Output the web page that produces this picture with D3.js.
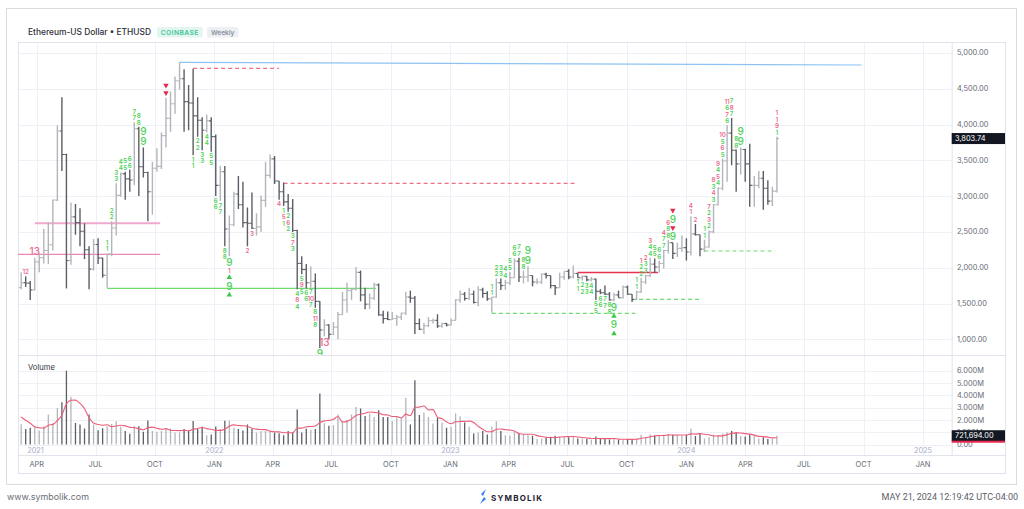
<!DOCTYPE html>
<html><head><meta charset="utf-8">
<script src="https://cdnjs.cloudflare.com/ajax/libs/d3/7.8.5/d3.min.js"></script>
<style>
body{margin:0;background:#fff;}
svg{display:block;font-family:Inter,"Open Sans",sans-serif;}
</style></head><body>
<svg id="c" width="1024" height="509"></svg>
<script>
// ---------------- DATA ----------------
const firstWeek = "2021-03-08"; // weekly bars, Monday start
const opens = [1723,1790,1785,1690,2080,2140,2240,2320,2945,3910,3580,2100,2710,2630,2510,2250,1980,2325,2135,1895,2190,2555,3010,3310,3240,3225,3940,3410,3330,3060,3390,3415,3845,4085,4290,4610,4640,4320,4300,4120,4060,3920,4050,
3830,3150,3340,2540,2600,3030,2880,2630,2620,2550,2570,2940,3290,3520,3210,3060,2920,2830,2520,2060,1975,1790,1810,1530,1130,1200,1070,1170,1345,1550,1680,1700,1935,1620,1490,1575,1760,1340,1290,1275,1290,1310,1365,1590,1575,1220,1140,1190,1260,1265,1185,1220,
1200,1265,1550,1630,1570,1630,1515,1690,1640,1565,1590,1790,1750,1790,1860,2090,1870,1870,1890,1800,1800,1910,1890,1750,1720,1870,1950,1870,1920,1860,1880,1830,1840,1670,1650,1630,1550,1620,1580,1730,1630,1555,1660,1800,1890,2050,2010,2060,2240,2350,2200,2270,
2280,2220,2470,2460,2260,2290,2500,2880,3110,3490,3880,3640,3450,3650,3450,3150,3150,3250,3110,2930,3070];
const highs = [1935,1880,1815,2140,2200,2545,2640,2950,3990,4380,3590,2910,2890,2830,2620,2300,2400,2410,2140,2200,2650,3180,3330,3340,3370,4030,3970,3680,3340,3480,3670,3890,4375,4460,4670,4870,4770,4550,4780,4380,4100,4140,4100,
3860,3420,3420,2730,3060,3280,3200,2840,3050,2760,3010,3480,3580,3560,3210,3190,3030,2960,2530,2160,2050,2020,1920,1530,1280,1210,1240,1380,1660,1790,1710,2010,1960,1720,1640,1790,1780,1400,1390,1380,1340,1370,1665,1680,1605,1290,1230,1310,1290,1350,1230,1230,
1290,1560,1680,1660,1720,1680,1740,1720,1670,1590,1850,1850,1830,1940,2130,2140,1960,2020,1890,1850,1920,1930,1890,1760,1930,1950,1980,2030,1930,1890,1880,1870,1850,1700,1750,1660,1650,1680,1750,1750,1630,1680,1860,1900,2140,2130,2100,2250,2390,2350,2350,2450,
2410,2720,2610,2460,2390,2520,2890,3120,3520,3990,4090,3650,3680,3660,3730,3280,3350,3350,3220,3130,3830];
const lows = [1700,1730,1550,1680,1935,2060,2050,2240,2930,3350,1710,2040,2460,2300,2120,1700,1960,2050,1860,1720,2160,2450,2990,2950,3060,3150,3000,3260,2650,2740,3340,3380,3680,3900,4150,4490,3900,3920,3570,3830,3640,3890,3620,
3000,2930,2300,2160,2580,2820,2560,2300,2540,2450,2500,2850,3250,3170,2950,2860,2780,2500,1700,1910,1710,1720,1440,880,1040,1000,1060,1000,1340,1370,1550,1680,1530,1420,1420,1550,1330,1220,1270,1270,1190,1270,1340,1510,1075,1130,1075,1170,1220,1160,1160,1180,
1190,1260,1510,1540,1550,1500,1460,1580,1540,1370,1580,1690,1690,1760,1860,1800,1780,1800,1740,1770,1770,1850,1710,1620,1720,1830,1840,1850,1860,1820,1810,1810,1550,1630,1620,1540,1530,1580,1570,1620,1520,1550,1650,1770,1870,1930,1930,1990,2200,2120,2150,2220,
2100,2170,2450,2160,2220,2280,2480,2870,3080,3200,3430,3060,3300,3200,2850,2850,3110,2810,2880,2860,3050];
const closes = [1790,1785,1690,2080,2140,2240,2320,2945,3910,3580,2100,2710,2630,2510,2250,1980,2325,2135,1895,2190,2555,3010,3310,3240,3225,3940,3410,3330,3060,3390,3415,3845,4085,4290,4610,4640,4320,4300,4120,4060,3920,4050,3830,
3150,3340,2540,2600,3030,2880,2630,2620,2550,2570,2940,3290,3520,3210,3060,2920,2830,2520,2060,1975,1790,1810,1530,1130,1200,1070,1170,1345,1550,1680,1700,1935,1620,1490,1575,1760,1340,1290,1275,1290,1310,1365,1590,1575,1220,1140,1190,1260,1265,1185,1220,1200,
1265,1550,1630,1570,1630,1515,1690,1640,1565,1590,1790,1750,1790,1860,2090,1870,1870,1890,1800,1800,1910,1890,1750,1720,1870,1950,1870,1920,1860,1880,1830,1840,1670,1650,1630,1550,1620,1580,1730,1630,1555,1660,1800,1890,2050,2010,2060,2240,2350,2200,2270,2280,
2220,2470,2460,2260,2290,2500,2880,3110,3490,3880,3640,3450,3650,3450,3150,3150,3250,3110,2930,3070,3803.74];
const volumesM = [1.65,1.27,1.36,1.44,1.14,1.49,2.44,1.71,2.98,3.44,6.0,3.9,1.76,1.63,1.30,2.44,1.63,1.17,1.33,1.49,1.68,1.90,1.45,1.10,0.88,1.52,1.50,1.04,1.96,1.10,1.04,1.10,1.30,1.30,0.99,0.99,1.26,1.10,1.91,1.26,1.45,0.77,0.83,
1.48,1.26,1.93,1.96,1.37,1.26,1.15,1.63,1.26,0.99,1.10,1.10,1.04,0.99,0.93,0.77,1.10,0.99,2.86,0.99,1.31,1.18,1.26,4.16,1.73,1.53,1.58,2.44,1.91,1.99,2.44,3.06,2.93,2.33,2.52,2.25,2.79,2.25,2.25,1.91,2.25,2.17,3.80,1.64,5.24,2.40,2.60,2.25,1.71,2.17,1.77,1.36,
1.45,2.53,2.31,1.80,1.45,0.90,0.98,1.10,0.82,1.45,1.90,1.10,0.77,0.72,1.00,0.90,0.82,0.77,0.72,0.45,0.50,0.55,0.64,0.72,0.64,0.65,0.60,0.68,0.50,0.48,0.45,0.40,0.65,0.45,0.50,0.42,0.45,0.40,0.42,0.45,0.42,0.50,0.80,0.60,0.85,0.75,0.70,0.80,0.85,0.80,0.72,0.75,
0.80,1.30,0.70,0.90,0.50,0.60,0.80,0.75,0.90,1.00,1.10,1.00,0.70,0.65,0.80,0.70,0.50,0.60,0.45,0.50,0.721694];
const volumeWarmupM = [2.6,2.6,2.9,1.5]; // weeks before the first visible bar (for the average)
const maPeriod = 5;

const priceTicks = [1000,1500,2000,2500,3000,3500,4000,4500,5000];
const volumeTicks = [0,1,2,3,4,5,6];
const quarterDates = ["2021-04-01","2021-07-01","2021-10-01","2022-01-01","2022-04-01","2022-07-01","2022-10-01","2023-01-01","2023-04-01","2023-07-01","2023-10-01","2024-01-01","2024-04-01","2024-07-01","2024-10-01","2025-01-01"];
const quarterLabels = ["APR","JUL","OCT","JAN","APR","JUL","OCT","JAN","APR","JUL","OCT","JAN","APR","JUL","OCT","JAN"];
const yearDates = ["2021-01-01","2022-01-01","2023-01-01","2024-01-01","2025-01-01"];
const yearLabels = ["2021","2022","2023","2024","2025"];

// horizontal level lines: [start, end, price, kind]
const levelLines = [
  ["2021-01-01","2021-10-09",2187,"pinkThin"],
  ["2021-03-29","2021-10-09",2620,"pinkThick"],
  ["2021-07-19","2022-09-08",1712,"greenSolid"],
  ["2021-11-29","2022-04-11",4785,"redDash"],
  ["2022-04-18","2023-07-12",3179,"redDash"],
  ["2023-03-06","2023-10-14",1363,"greenDash"],
  ["2023-07-17","2023-11-18",1933,"redSolid"],
  ["2023-10-09","2024-01-22",1559,"greenDash"],
  ["2024-01-29","2024-05-17",2233,"greenDash"]
];
const trendLine = [["2021-11-08",4869],["2024-09-28",4831]];

// TD counts: [bar index, side (a=above, b=below, r=beside low), items nearest-first]
const tdMarks = [
 [1,'a',['p12']],[3,'a',['P13']],
 [19,'a',['g1','g1']],[20,'a',['g2','g2']],[21,'a',['g3','g3']],[22,'a',['g4','g4']],[23,'a',['g5','g5']],
 [24,'a',['g6','g6']],[25,'a',['g7','g7']],[26,'a',['g8','g8']],[27,'a',['G9','G9']],
 [32,'a',['v','v']],
 [38,'b',['g1','g1']],[39,'b',['g2','g2']],[40,'b',['g3','g3']],[41,'b',['g4','g4']],[42,'b',['g5','g5']],
 [43,'b',['g6','g6']],[44,'b',['g7','g7']],[45,'b',['g8','g8']],[46,'b',['G9','p1','^','G9','^']],
 [50,'b',['p2']],[51,'b',['p3']],[57,'b',['p4']],
 [58,'b',['g1','p5','g1']],[59,'b',['g2','p6','g2']],[60,'b',['g3','p7','g3']],[61,'b',['g4','p8','g4']],
 [62,'b',['g5','p9','g5']],[63,'b',['g6','g6']],[64,'b',['g7','p10','g7']],[65,'b',['g8','p11','g8']],
 [66,'b',['G9']],[66,'r',['P13']],
 [104,'a',['g1','g1']],[105,'a',['g2','g2']],[106,'a',['g3','g3']],[107,'a',['g4','g4']],[108,'a',['g5','g5']],
 [109,'a',['g6','g6']],[110,'a',['g7','g7']],[111,'a',['g8','g8']],[112,'a',['G9','G9']],
 [123,'b',['g1','g1']],[124,'b',['g2','g2']],[125,'b',['g3','g3']],[126,'b',['g4','g4']],[127,'b',['g5','g5']],
 [128,'b',['g6','g6']],[129,'b',['g7','g7']],[130,'b',['g8','g8']],[131,'b',['G9','^','G9','^']],
 [136,'a',['g1','g1']],[137,'a',['g2','g2','p1']],[138,'a',['g3','g3','p2']],[139,'a',['g4','g4','p3']],
 [140,'a',['g5','g5']],[141,'a',['g6','g6']],[142,'a',['g7','g7','p4']],[143,'a',['g8','g8','p6']],
 [144,'a',['G9','v','G9','v']],
 [148,'a',['p1','p4']],[149,'a',['p2']],
 [151,'a',['g1','g1']],[152,'a',['g2','p3','g2','p7']],[153,'a',['g3','p4','g3','p8']],[154,'a',['g4','p5','g4','p9']],
 [155,'a',['g5','p6','g5','p10']],[156,'a',['g6','p7','g6','p11']],[157,'a',['g7','p8','g7']],[158,'a',['g8','g8']],
 [159,'a',['G9','G9']],
 [167,'a',['g1','p9','p1','p1']]
];

// ---------------- LAYOUT ----------------
const svg = d3.select("#c");
const L = 18, R = 951.7, RA = 1005, PT = 42, PB = 355, VB = 455, TB = 473;
const parse = d3.utcParse("%Y-%m-%d");
const t0 = parse(firstWeek);
const bars = opens.map((o,i)=>({i, date:d3.utcDay.offset(t0,7*i), o, h:highs[i], l:lows[i], c:closes[i], v:volumesM[i]}));
const allVol = volumeWarmupM.concat(volumesM);
bars.forEach((b,i)=>{ const s = allVol.slice(i+volumeWarmupM.length-maPeriod+1, i+volumeWarmupM.length+1); b.ma = d3.mean(s); });

const x = d3.scaleUtc().domain([parse("2021-01-01"), parse("2025-01-01")]).range([-21.5, 923]);
const y = d3.scaleLinear().domain([1000,5000]).range([339.3, 52.9]);
const yv = d3.scaleLinear().domain([0,6]).range([444.6, 370.8]);

const GRID = "#eef0f6", BORDER = "#e1e4ec", TXT = "#666a73";
const UP = "#b3b5ba", DOWN = "#5b5e65";
const GREEN = "#4fd15a", PINK = "#ee6a8e", RED = "#e5294f";

// card
svg.append("rect").attr("x",6.5).attr("y",8.5).attr("width",1010).attr("height",476).attr("fill","#fff").attr("stroke","#dcdcdc");

const defs = svg.append("defs");
defs.append("clipPath").attr("id","cp").append("rect").attr("x",L).attr("y",PT).attr("width",R-L).attr("height",PB-PT);
defs.append("clipPath").attr("id","cv").append("rect").attr("x",L).attr("y",PB).attr("width",R-L).attr("height",VB-PB);

// grid
const g = svg.append("g");
quarterDates.forEach(d=>{
  const xx = Math.round(x(parse(d)))+0.5;
  g.append("line").attr("x1",xx).attr("x2",xx).attr("y1",PT).attr("y2",VB).attr("stroke",GRID);
});
priceTicks.forEach(p=>{
  const yy = Math.round(y(p))+0.5;
  g.append("line").attr("x1",L).attr("x2",R).attr("y1",yy).attr("y2",yy).attr("stroke",GRID);
});
volumeTicks.forEach(v=>{
  const yy = Math.round(yv(v))+0.5;
  g.append("line").attr("x1",L).attr("x2",R).attr("y1",yy).attr("y2",yy).attr("stroke",GRID);
});
// frame
const fr = svg.append("g").attr("stroke",BORDER).attr("fill","none");
fr.append("rect").attr("x",L+0.5).attr("y",PT+0.5).attr("width",RA-L).attr("height",TB-PT);
fr.append("line").attr("x1",L).attr("x2",RA).attr("y1",PB+0.5).attr("y2",PB+0.5);
fr.append("line").attr("x1",L).attr("x2",RA).attr("y1",VB+0.5).attr("y2",VB+0.5);
fr.append("line").attr("x1",R+0.5).attr("x2",R+0.5).attr("y1",PT).attr("y2",VB);

// title + badges
svg.append("text").attr("x",28).attr("y",35).attr("font-size",8.6).attr("fill","#2b2e36").attr("font-weight",500)
  .attr("textLength",123).attr("lengthAdjust","spacingAndGlyphs").text("Ethereum-US Dollar • ETHUSD");
svg.append("rect").attr("x",157).attr("y",27).attr("width",45.5).attr("height",10.5).attr("rx",2).attr("fill","#e2f6ef");
svg.append("text").attr("x",179.7).attr("y",34.8).attr("text-anchor","middle").attr("font-size",6.6).attr("font-weight",600)
  .attr("fill","#3fc49b").attr("letter-spacing",0.5).text("COINBASE");
svg.append("rect").attr("x",207).attr("y",27).attr("width",31.5).attr("height",10.5).attr("rx",2).attr("fill","#edeff3");
svg.append("text").attr("x",222.7).attr("y",34.8).attr("text-anchor","middle").attr("font-size",6.6).attr("font-weight",600)
  .attr("fill","#8a8fa0").text("Weekly");

// y axis labels
const fmt = d3.format(",.2f");
priceTicks.forEach(p=>{
  svg.append("text").attr("x",957).attr("y",y(p)).attr("dy","0.35em").attr("font-size",7.4).attr("fill",TXT).text(fmt(p));
});
volumeTicks.forEach(v=>{
  svg.append("text").attr("x",957).attr("y",yv(v)).attr("dy","0.35em").attr("font-size",7.4).attr("fill",TXT)
    .text(v===0 ? "0.00" : d3.format(".3f")(v)+"M");
});
// x axis labels
quarterDates.forEach((d,k)=>{
  svg.append("text").attr("x",x(parse(d))).attr("y",464).attr("dy","0.35em").attr("text-anchor","middle")
    .attr("font-size",7.4).attr("fill",TXT).text(quarterLabels[k]);
});
yearDates.forEach((d,k)=>{
  const xx = Math.max(x(parse(d)), 35.5);
  svg.append("text").attr("x",xx).attr("y",450).attr("dy","0.35em").attr("text-anchor","middle")
    .attr("font-size",7.4).attr("fill","#a7aecb").text(yearLabels[k]);
});

// price panel
const pp = svg.append("g").attr("clip-path","url(#cp)");
const styles = {
  pinkThin:{stroke:"#e56aa6",w:1,dash:null},
  pinkThick:{stroke:"#f0a8cf",w:2,dash:null},
  greenSolid:{stroke:"#6fdc6f",w:1.3,dash:null},
  greenDash:{stroke:"#6fdc6f",w:1.2,dash:"4,3"},
  redDash:{stroke:"#ea4d6a",w:1,dash:"4,3"},
  redSolid:{stroke:"#e8334f",w:1.3,dash:null}
};
levelLines.forEach(([a,b,p,k])=>{
  const s = styles[k];
  pp.append("line").attr("x1",x(parse(a))).attr("x2",x(parse(b))).attr("y1",y(p)).attr("y2",y(p))
    .attr("stroke",s.stroke).attr("stroke-width",s.w).attr("stroke-dasharray",s.dash);
});
pp.append("line").attr("x1",x(parse(trendLine[0][0]))).attr("y1",y(trendLine[0][1]))
  .attr("x2",x(parse(trendLine[1][0]))).attr("y2",y(trendLine[1][1])).attr("stroke","#8cc3f2").attr("stroke-width",1.2);

// OHLC bars
const bg = pp.append("g");
bars.forEach(b=>{
  const xx = x(b.date), col = b.c >= b.o ? UP : DOWN;
  bg.append("line").attr("x1",xx).attr("x2",xx).attr("y1",y(b.h)).attr("y2",y(b.l)).attr("stroke",col).attr("stroke-width",1.4);
  bg.append("line").attr("x1",xx-2.2).attr("x2",xx).attr("y1",y(b.o)).attr("y2",y(b.o)).attr("stroke",col).attr("stroke-width",1.1);
  bg.append("line").attr("x1",xx).attr("x2",xx+2.2).attr("y1",y(b.c)).attr("y2",y(b.c)).attr("stroke",col).attr("stroke-width",1.1);
});

// TD marks
const tg = pp.append("g").attr("text-anchor","middle").attr("font-weight",600);
const itemH = it => it==='^'||it==='v' ? 7.5 : (it[0]==='G'||it[0]==='P') ? 10 : 6.5;
tdMarks.forEach(([i,side,items])=>{
  const b = bars[i], xx = x(b.date);
  let off = 1;
  items.forEach(it=>{
    const h = itemH(it);
    let cy, cx = xx;
    if (side==='a') cy = y(b.h) - off - h/2;
    else if (side==='b') cy = y(b.l) + off + h/2;
    else { cy = y(b.l) - 5; cx = xx + 4.5; }
    off += h;
    if (it==='^' || it==='v') {
      tg.append("path").attr("d", d3.symbol(d3.symbolTriangle, 13)())
        .attr("transform",`translate(${cx},${cy}) rotate(${it==='v'?180:0})`)
        .attr("fill", it==='v' ? RED : "#3cc84a");
    } else {
      const big = it[0]==='G'||it[0]==='P';
      const green = it[0]==='g'||it[0]==='G';
      tg.append("text").attr("x",cx).attr("y",cy).attr("dy","0.36em")
        .attr("font-size", big ? 10 : 6.2).attr("font-weight", big?500:600)
        .attr("fill", green ? GREEN : PINK).text(it.slice(1));
    }
  });
});

// volume panel
const vp = svg.append("g").attr("clip-path","url(#cv)");
bars.forEach(b=>{
  const xx = x(b.date), col = b.c >= b.o ? UP : DOWN;
  vp.append("line").attr("x1",xx).attr("x2",xx).attr("y1",yv(b.v)).attr("y2",yv(0)).attr("stroke",col).attr("stroke-width",1.3);
});
vp.append("path").datum(bars).attr("fill","none").attr("stroke","#ec5c78").attr("stroke-width",1.1)
  .attr("d", d3.line().x(b=>x(b.date)).y(b=>yv(b.ma)).curve(d3.curveMonotoneX));
svg.append("text").attr("x",28).attr("y",367).attr("dy","0.35em").attr("font-size",7.6).attr("fill","#33363d").text("Volume");

// last value labels
const last = bars[bars.length-1];
svg.append("rect").attr("x",R).attr("y",yv(last.v)+4).attr("width",RA-R).attr("height",3).attr("fill","#e5294f");
svg.append("rect").attr("x",R).attr("y",yv(last.v)-5.5).attr("width",RA-R).attr("height",10.5).attr("fill","#131722");
svg.append("text").attr("x",955).attr("y",yv(last.v)).attr("dy","0.35em").attr("font-size",7.4).attr("fill","#fff")
  .text(d3.format(",.2f")(last.v*1e6));
svg.append("rect").attr("x",R).attr("y",y(last.c)-5.5).attr("width",RA-R).attr("height",11).attr("fill","#131722");
svg.append("text").attr("x",955).attr("y",y(last.c)).attr("dy","0.35em").attr("font-size",7.4).attr("fill","#fff")
  .text(d3.format(",.2f")(last.c));

// footer
svg.append("text").attr("x",7).attr("y",500).attr("font-size",9).attr("fill","#6a6d75")
  .attr("textLength",82).attr("lengthAdjust","spacingAndGlyphs").text("www.symbolik.com");
svg.append("text").attr("x",1018).attr("y",500).attr("text-anchor","end").attr("font-family","Roboto").attr("font-size",9).attr("fill","#5d6068")
  .text("MAY 21, 2024 12:19:42 UTC-04:00");
svg.append("path").attr("d","M486,489 L481,494 L484,497 L480,504 L486,499 L483,496 Z").attr("fill","#2f7df6");
svg.append("text").attr("x",491).attr("y",500.5).attr("font-size",8).attr("font-weight",700).attr("fill","#1f2230")
  .attr("letter-spacing",1.2).text("SYMBOLIK");
</script>
</body></html>
